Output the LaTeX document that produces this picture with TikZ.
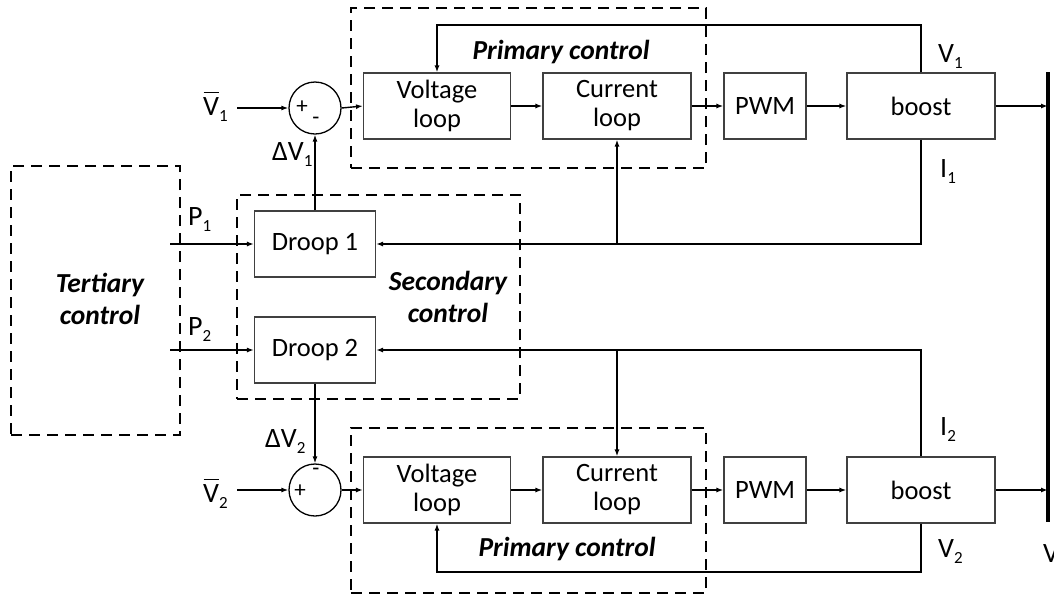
\documentclass[tikz,border=0pt]{standalone}
\usepackage{fontspec}
\setmainfont{Carlito}
\usetikzlibrary{arrows.meta}
\newcommand\sbs[1]{\raisebox{-6pt}{\fontsize{17}{17}\selectfont #1}}
\newcommand\vbar{\makebox[0pt][l]{\hspace{0.5pt}\rule[22pt]{15pt}{1.3pt}}V}
\begin{document}
\begin{tikzpicture}[x=1pt,y=-1pt,
  blk/.style={draw=black!75, line width=1.1pt, minimum height=66pt, inner sep=0pt, align=center, font=\fontsize{26.5}{29}\selectfont},
  dbox/.style={draw, line width=2.2pt, dash pattern=on 11pt off 7pt, inner sep=0pt},
  sumc/.style={draw, circle, line width=1.3pt, minimum size=52pt, inner sep=0pt},
  conn/.style={line width=1.4pt},
  arr/.style={conn, -{Latex[length=7pt,width=5pt]}},
  lab/.style={font=\fontsize{28}{30}\selectfont, inner sep=0pt, anchor=base west},
  sgn/.style={font=\fontsize{23}{23}\selectfont, inner sep=0pt},
  ttl/.style={font=\fontsize{27.5}{32}\selectfont\bfseries\itshape, align=center, inner sep=0pt},
]
\useasboundingbox (0,0) rectangle (1054,598);

% dashed grouping boxes
\node[dbox, minimum width=355pt, minimum height=160pt] (pc1) at (528.5,88) {};
\node[dbox, minimum width=355pt, minimum height=165pt] (pc2) at (528.5,510.5) {};
\node[dbox, minimum width=283pt, minimum height=204pt] (sc) at (378.5,297) {};
\node[dbox, minimum width=169pt, minimum height=269pt] (tc) at (95.5,300.5) {};

% titles
\node[ttl] (pc1t) at (561,52) {Primary control};
\node[ttl] (pc2t) at (567,549) {Primary control};
\node[ttl] (sct) at (448,297) {Secondary\\control};
\node[ttl] (tct) at (100,299) {Tertiary\\control};

% row 1
\node[sumc] (sum1) at (315,108) {};
\node[sgn] at (302,107) {+};
\node[sgn] at (316,121) {-};
\node[blk, minimum width=147pt] (vl1) at (437,106) {Voltage\\loop};
\node[blk, minimum width=148pt] (cl1) at (617,106) {Current\\loop};
\node[blk, minimum width=82pt] (pwm1) at (765,106) {PWM};
\node[blk, minimum width=148pt] (bst1) at (921,106) {boost};

% row 2
\node[sumc] (sum2) at (315,490) {};
\node[sgn] at (300,491) {+};
\node[sgn] at (316,472) {-};
\node[blk, minimum width=147pt] (vl2) at (437,490) {Voltage\\loop};
\node[blk, minimum width=148pt] (cl2) at (617,490) {Current\\loop};
\node[blk, minimum width=82pt] (pwm2) at (765,490) {PWM};
\node[blk, minimum width=148pt] (bst2) at (921,490) {boost};

% droop blocks
\node[blk, minimum width=121pt] (dr1) at (315,244) {Droop 1};
\node[blk, minimum width=121pt] (dr2) at (315,350) {Droop 2};

% bus
\coordinate (busT) at (1048,72);
\coordinate (busB) at (1048,522);
\draw[line width=4pt] (busT) -- (busB);
\node[lab] (vbus) at (1043,562) {V};

% labels
\node[lab] (v1ref) at (203,115) {\vbar\sbs{1}};
\node[lab] (v2ref) at (203,502) {\vbar\sbs{2}};
\node[lab] (dv1) at (272,160) {ΔV\sbs{1}};
\node[lab] (dv2) at (265,447) {ΔV\sbs{2}};
\node[lab] (p1) at (188,225) {P\sbs{1}};
\node[lab] (p2) at (188,335) {P\sbs{2}};
\node[lab] (v1) at (938,62) {V\sbs{1}};
\node[lab] (i1) at (940,177) {I\sbs{1}};
\node[lab] (i2) at (940,435) {I\sbs{2}};
\node[lab] (v2) at (938,557) {V\sbs{2}};

% coordinates for free ends
\coordinate (in1) at (237,108);
\coordinate (in2) at (237,490);
\coordinate (ps1) at (170,244);
\coordinate (ps2) at (170,350);
\coordinate (fb1) at (921,25);
\coordinate (fb2) at (921,572);

% row 1 connectors
\draw[arr] (in1) -- (sum1.west);
\draw[arr] (sum1.east) -- (vl1.west);
\draw[arr] (vl1.east) -- (cl1.west);
\draw[arr] (cl1.east) -- (pwm1.west);
\draw[arr] (pwm1.east) -- (bst1.west);
\draw[arr] (bst1.east) -- (bst1.east -| busT);
\draw[arr] (bst1.north) -- (fb1) -| (vl1.north);
\draw[arr] (bst1.south) |- (dr1.east);
\draw[arr] (cl1.south |- dr1.east) -- (cl1.south);
\draw[arr] (dr1.north) -- (sum1.south);
\draw[arr] (ps1) -- (dr1.west);

% row 2 connectors
\draw[arr] (in2) -- (sum2.west);
\draw[arr] (sum2.east) -- (vl2.west);
\draw[arr] (vl2.east) -- (cl2.west);
\draw[arr] (cl2.east) -- (pwm2.west);
\draw[arr] (pwm2.east) -- (bst2.west);
\draw[arr] (bst2.east) -- (bst2.east -| busT);
\draw[arr] (bst2.south) -- (fb2) -| (vl2.south);
\draw[arr] (bst2.north) |- (dr2.east);
\draw[arr] (cl2.north |- dr2.east) -- (cl2.north);
\draw[arr] (dr2.south) -- (sum2.north);
\draw[arr] (ps2) -- (dr2.west);
\end{tikzpicture}
\end{document}
